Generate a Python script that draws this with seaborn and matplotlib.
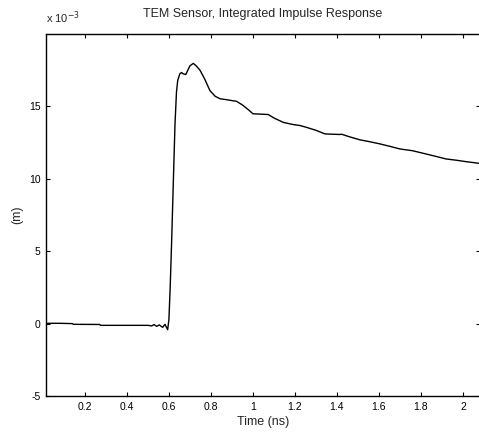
import matplotlib
matplotlib.use("Agg")
import matplotlib.pyplot as plt
import seaborn as sns
import pandas as pd

time_ns = [0.0146, 0.08, 0.14, 0.145, 0.27, 0.275, 0.5, 0.518, 0.529, 0.542, 0.554, 0.57, 0.581, 0.594,
           0.600, 0.606, 0.613, 0.621, 0.629, 0.636, 0.642, 0.652, 0.66, 0.668, 0.68, 0.69, 0.70, 0.716,
           0.73, 0.748, 0.77, 0.795, 0.82, 0.843, 0.88, 0.922, 0.95, 0.98, 1.0, 1.073, 1.1, 1.144, 1.19,
           1.224, 1.256, 1.30, 1.343, 1.414, 1.422, 1.46, 1.51, 1.56, 1.605, 1.65, 1.70, 1.76, 1.80,
           1.857, 1.92, 1.97, 2.017, 2.05, 2.08]
resp_e3 = [0.02, 0.02, 0.0, -0.05, -0.06, -0.12, -0.12, -0.16, -0.07, -0.19, -0.09, -0.26, -0.05, -0.42,
           0.3, 2.5, 5.7, 9.8, 13.8, 16.0, 16.8, 17.25, 17.34, 17.25, 17.2, 17.5, 17.8, 17.97,
           17.8, 17.5, 16.9, 16.1, 15.7, 15.53, 15.45, 15.35, 15.1, 14.75, 14.49, 14.44, 14.2, 13.9, 13.75,
           13.68, 13.55, 13.35, 13.1, 13.06, 13.08, 12.9, 12.69, 12.55, 12.41, 12.25, 12.06, 11.94, 11.8,
           11.6, 11.37, 11.28, 11.18, 11.12, 11.06]

title = "TEM Sensor, Integrated Impulse Response"
xticks = [0.2, 0.4, 0.6, 0.8, 1.0, 1.2, 1.4, 1.6, 1.8, 2.0]
xtick_labels = ["0.2", "0.4", "0.6", "0.8", "1", "1.2", "1.4", "1.6", "1.8", "2"]
yticks = [-5, 0, 5, 10, 15]
ytick_labels = ["-5", "0", "5", "10", "15"]

sns.set_style("ticks")
plt.rcParams['font.family'] = ['Liberation Sans', 'DejaVu Sans']

fig = plt.figure(figsize=(4.79, 4.33), dpi=100)
ax = fig.add_axes([46/479, 37/433, 433.7/479, 362/433])

df = pd.DataFrame({"t": time_ns, "r": resp_e3})
sns.lineplot(data=df, x="t", y="r", ax=ax, color="black", linewidth=1.0, sort=False)

ax.set_xlim(0.0146, 2.08)
ax.set_ylim(-5, 20)
ax.set_xticks(xticks)
ax.set_xticklabels(xtick_labels)
ax.set_yticks(yticks)
ax.set_yticklabels(ytick_labels)
ax.tick_params(direction="in", length=3, width=0.8, labelsize=7.5, top=True, right=True, pad=4,
               colors="black")
for s in ax.spines.values():
    s.set_linewidth(1.0)
    s.set_color("black")

ax.set_xlabel("Time (ns)", fontsize=9, labelpad=3)
ax.set_ylabel("(m)", fontsize=9, labelpad=4)
ax.set_title(title, fontsize=9, pad=12)
fig.text(46/479, 1 - 18/433, r"x 10$^{-3}$", fontsize=8, ha="left", va="center")

fig.savefig("out.png", dpi=100)
